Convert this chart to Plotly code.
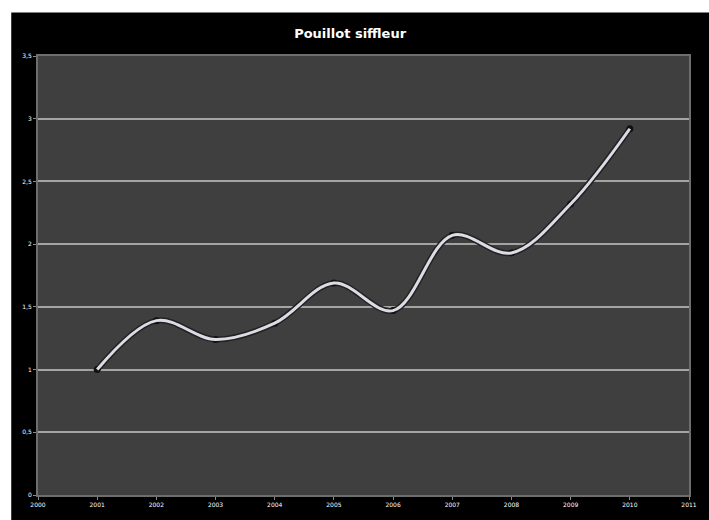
import plotly.graph_objects as go

years = [2001, 2002, 2003, 2004, 2005, 2006, 2007, 2008, 2009, 2010]
values = [1.0, 1.39, 1.24, 1.37, 1.69, 1.47, 2.07, 1.93, 2.32, 2.92]
x_ticks = list(range(2000, 2012))
y_ticks = [0, 0.5, 1, 1.5, 2, 2.5, 3, 3.5]

W, H = 709, 520
L, R, T, B = 38, 14, 56, 20
PW, PH = W - L - R, H - T - B

fig = go.Figure()
fig.add_trace(go.Scatter(x=years, y=values, mode="lines+markers",
                         line=dict(color="#222222", width=6, shape="spline", smoothing=1),
                         marker=dict(color="#111111", size=7),
                         hoverinfo="skip", showlegend=False))
fig.add_trace(go.Scatter(x=years, y=values, mode="lines",
                         line=dict(color="#dcdce6", width=3, shape="spline", smoothing=1),
                         showlegend=False, name="Pouillot siffleur"))

# white strips at left and top (outside the black frame)
fig.add_shape(type="rect", xref="paper", yref="paper",
              x0=(0 - L) / PW - 0.1, x1=(11 - L) / PW, y0=(PH + T - H) / PH - 0.1, y1=(PH + T) / PH + 0.1,
              fillcolor="white", line_width=0)
fig.add_shape(type="rect", xref="paper", yref="paper",
              x0=-L / PW - 0.1, x1=1 + R / PW + 0.1, y0=(PH + T - 12) / PH, y1=(PH + T) / PH + 0.1,
              fillcolor="white", line_width=0)

fig.update_layout(
    width=W, height=H,
    margin=dict(l=L, r=R, t=T, b=B),
    paper_bgcolor="black",
    plot_bgcolor="#3f3f3f",
    separators=",.",
    title=dict(text="<b>Pouillot siffleur</b>", x=(353 - L) / PW, xanchor="center",
               xref="paper",
               y=1 - 33 / H, yanchor="middle",
               font=dict(family="DejaVu Sans", size=13, color="white")),
    font=dict(family="DejaVu Sans", color="white"),
    xaxis=dict(range=[2000, 2011], tickvals=x_ticks, ticktext=[str(t) for t in x_ticks],
               showgrid=False, zeroline=False, showline=True, mirror=True, linecolor="#6e6e6e",
               linewidth=2,
               ticks="outside", ticklen=3, tickcolor="#8a8a8a",
               tickfont=dict(size=6, color="white")),
    yaxis=dict(range=[0, 3.5], tickvals=y_ticks,
               showgrid=True, gridcolor="#a4a4a4", gridwidth=2, zeroline=False,
               showline=True, mirror=True, linecolor="#6e6e6e", linewidth=2,
               ticks="outside", ticklen=3, tickcolor="#8a8a8a",
               tickfont=dict(size=6, color="white")),
)

fig.write_html("out.html", config={"displayModeBar": False},
               post_script="document.body.style.margin='0';document.body.style.overflow='hidden';")
